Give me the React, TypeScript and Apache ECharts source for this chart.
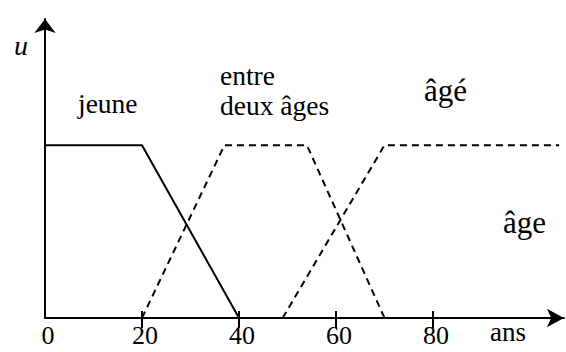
import React, { useEffect, useRef } from "react";
import * as echarts from "echarts";

// Membership functions (age in years -> degree u)
const jeuneAges = [0, 20, 40];
const jeuneU = [1, 1, 0];
const entreAges = [20, 37, 54, 70];
const entreU = [0, 1, 1, 0];
const ageAges = [49, 70, 106];
const ageU = [0, 1, 1];

const xTickValues = [20, 40, 60, 80];
const xLabelValues = [0, 20, 40, 60, 80];

const X_MAX = 107;
const Y_MAX = 1.73;

const SERIF = "Liberation Serif";
const BASE = 20;

function pairs(xs: number[], ys: number[]) {
  return xs.map((x, i) => [x, ys[i]]);
}

// text drawn at a base font size, scaled to the wanted visual size
function txt(
  text: string,
  x: number,
  baseline: number,
  size: number,
  align: string = "left",
  italic = false
) {
  const s = size / BASE;
  const style: any = {
    text,
    x: 0,
    y: 0,
    fontSize: BASE,
    fontFamily: SERIF,
    fill: "#000",
    align,
    verticalAlign: "middle",
  };
  if (italic) style.fontStyle = "italic";
  return {
    type: "text",
    x,
    y: baseline - 0.3375 * size,
    scaleX: s,
    scaleY: s,
    style,
  };
}

export default function App() {
  const ref = useRef<HTMLDivElement>(null);
  useEffect(() => {
    if (!ref.current) return;
    const chart = echarts.init(ref.current, undefined, { renderer: "svg" });
    const lineBase = { color: "#000", width: 2 };
    chart.setOption({
      animation: false,
      backgroundColor: "#fff",
      grid: { left: 45, top: 19, width: 4.85 * X_MAX, height: 299 },
      xAxis: [
        {
          type: "value",
          min: 0,
          max: X_MAX,
          position: "bottom",
          splitLine: { show: false },
          axisLine: {
            show: true,
            lineStyle: { color: "#000", width: 2 },
            symbol: ["none", "arrow"],
            symbolSize: [14, 17],
          },
          axisTick: {
            show: true,
            customValues: xTickValues,
            length: 10,
            lineStyle: { color: "#000", width: 2 },
          },
          axisLabel: { show: false },
        },
        {
          type: "value",
          min: 0,
          max: X_MAX,
          position: "bottom",
          splitLine: { show: false },
          axisLine: { show: false },
          axisLabel: { show: false },
          axisTick: {
            show: true,
            inside: true,
            customValues: xTickValues,
            length: 7,
            lineStyle: { color: "#000", width: 2 },
          },
        },
      ],
      yAxis: {
        type: "value",
        min: 0,
        max: Y_MAX,
        splitLine: { show: false },
        axisTick: { show: false },
        axisLabel: { show: false },
        axisLine: {
          show: true,
          lineStyle: { color: "#000", width: 2 },
          symbol: ["none", "arrow"],
          symbolSize: [16, 14],
        },
      },
      series: [
        {
          name: "jeune",
          type: "line",
          data: pairs(jeuneAges, jeuneU),
          symbol: "none",
          lineStyle: { ...lineBase, type: "solid" },
        },
        {
          name: "entre deux âges",
          type: "line",
          data: pairs(entreAges, entreU),
          symbol: "none",
          lineStyle: { ...lineBase, type: [7, 5] },
        },
        {
          name: "âgé",
          type: "line",
          data: pairs(ageAges, ageU),
          symbol: "none",
          lineStyle: { ...lineBase, type: [7, 5] },
        },
      ],
    });

    // tick labels placed through the x scale
    const tickLabels = xLabelValues.map((v) => {
      const px = chart.convertToPixel({ xAxisIndex: 0 }, v) as number;
      return txt(String(v), px + 3, 344, 26, "center");
    });

    chart.setOption({
      graphic: [
        txt("u", 14, 55, 28, "left", true),
        txt("jeune", 78, 113, 27.5),
        txt("entre", 220, 85, 27.5),
        txt("deux âges", 220, 115, 27.5),
        txt("âgé", 424, 101, 31),
        txt("âge", 503, 233, 31),
        txt("ans", 490, 341, 27),
        ...tickLabels,
      ],
    });
    return () => chart.dispose();
  }, []);
  return (
    <div
      ref={ref}
      style={{ position: "absolute", left: 0, top: 0, width: 566, height: 352 }}
    />
  );
}
